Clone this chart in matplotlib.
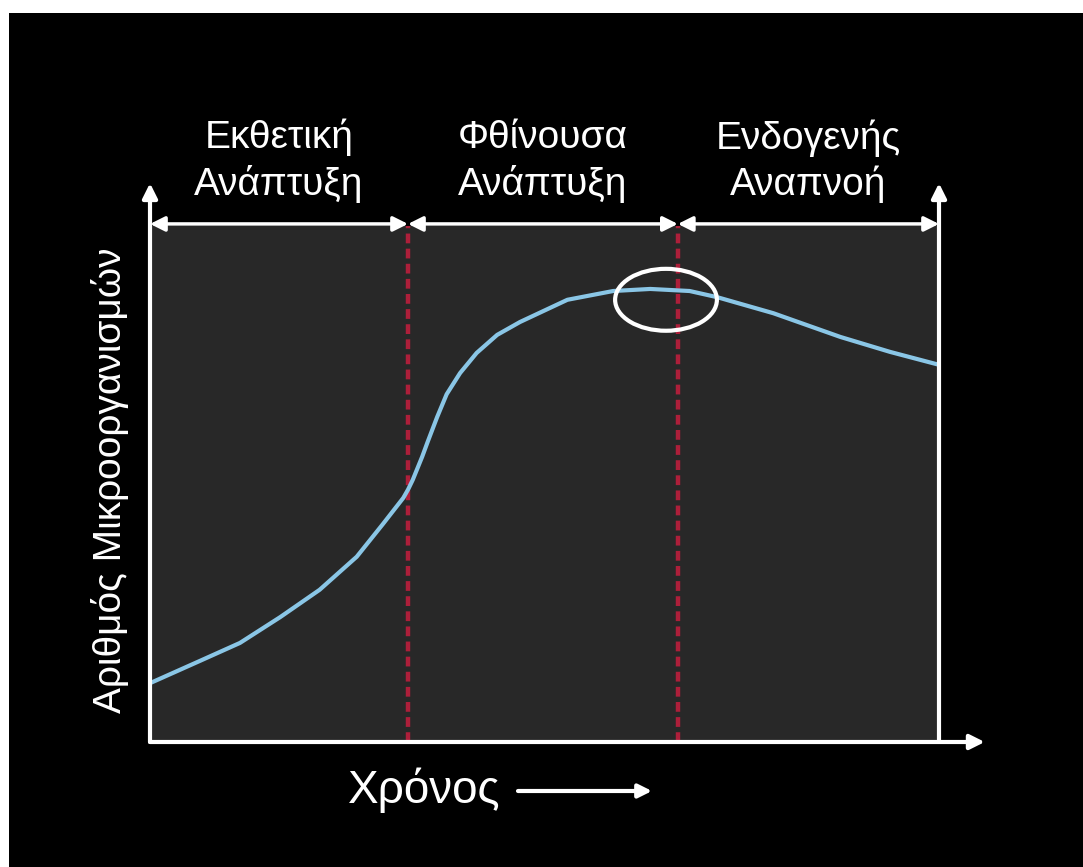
import matplotlib.pyplot as plt
from matplotlib.patches import Ellipse, Rectangle, FancyArrowPatch

plt.rcParams['font.family'] = ['Liberation Sans', 'DejaVu Sans']

# Curve (time in arbitrary units 0-10, count in % of plot height)
time = [0, 0.63, 1.14, 1.65, 2.15, 2.62, 2.95, 3.21, 3.27, 3.33, 3.45, 3.52, 3.64, 3.76,
        3.93, 4.14, 4.40, 4.69, 5.29, 5.87, 6.34, 6.84, 7.19, 7.90, 8.75, 9.38, 10.0]
count = [11.4, 15.7, 19.2, 24.2, 29.5, 35.9, 42.2, 47.3, 48.9, 50.8, 55.3, 58.2, 63.0, 67.4,
         71.5, 75.4, 78.9, 81.4, 85.7, 87.4, 87.8, 87.4, 86.2, 83.1, 78.5, 75.6, 73.1]

# Phase boundaries and labels
phase_edges = [0, 3.27, 6.69, 10.0]
phase_labels = ['Εκθετική\nΑνάπτυξη', 'Φθίνουσα\nΑνάπτυξη', 'Ενδογενής\nΑναπνοή']

# Highlighted region around the peak
peak_center = (6.54, 85.7)
peak_size = (1.29, 12.0)

W, H = 1083, 867
fig = plt.figure(figsize=(W / 100, H / 100), dpi=100, facecolor='white')

# black slide background with thin white margin at top/left
fig.patches.append(Rectangle((9 / W, 0), 1, (H - 13) / H, transform=fig.transFigure,
                             facecolor='black', edgecolor='none', zorder=-10))

ax = fig.add_axes([150 / W, (H - 742) / H, (939 - 150) / W, (742 - 226) / H])
ax.set_facecolor('#282828')
ax.set_xlim(0, 10)
ax.set_ylim(0, 100)
for s in ax.spines.values():
    s.set_visible(False)
ax.set_xticks([])
ax.set_yticks([])

# growth curve
ax.plot(time, count, color='#8ac6e6', lw=3, solid_capstyle='round',
        solid_joinstyle='round', zorder=3)

# phase boundaries
for xb in phase_edges[1:-1]:
    ax.axvline(xb, color='#ad1f3a', lw=3.2, linestyle=(0, (2.2, 1.2)), zorder=2)

# axes arrows
arrow = dict(arrowstyle='-|>', color='white', lw=3, mutation_scale=22,
             shrinkA=0, shrinkB=0)
ax.annotate('', xy=(0, 108.3), xytext=(0, 0), arrowprops=arrow, annotation_clip=False)
ax.annotate('', xy=(10, 108.3), xytext=(10, 0), arrowprops=arrow, annotation_clip=False)
ax.annotate('', xy=(10.58, 0), xytext=(0, 0), arrowprops=arrow, annotation_clip=False)

# phase double arrows and labels
darrow = dict(arrowstyle='<|-|>', color='white', lw=2.5, mutation_scale=22,
              shrinkA=0, shrinkB=0)
for i, lab in enumerate(phase_labels):
    x0, x1 = phase_edges[i], phase_edges[i + 1]
    ax.annotate('', xy=(x0, 100.4), xytext=(x1, 100.4), arrowprops=darrow,
                annotation_clip=False)
    ax.text((x0 + x1) / 2, 106.0, lab, ha='center', va='baseline', color='white',
            fontsize=28, linespacing=1.3, clip_on=False)

# ellipse at the peak
ax.add_patch(Ellipse(peak_center, peak_size[0], peak_size[1], fill=False,
                     edgecolor='white', lw=3, zorder=4))

# axis titles
fig.text(110 / W, (H - 480) / H, 'Αριθμός Μικροοργανισμών', rotation=90,
         ha='center', va='center', color='white', fontsize=28)
fig.text(348 / W, (H - 803) / H, 'Χρόνος', ha='left', va='baseline',
         color='white', fontsize=33)
fig.patches.append(FancyArrowPatch(
    (518 / W, (H - 791) / H), (652 / W, (H - 791) / H), transform=fig.transFigure,
    arrowstyle='-|>', color='white', lw=3, mutation_scale=20, shrinkA=0, shrinkB=0))

fig.savefig('out.png', dpi=100, facecolor=fig.get_facecolor())
